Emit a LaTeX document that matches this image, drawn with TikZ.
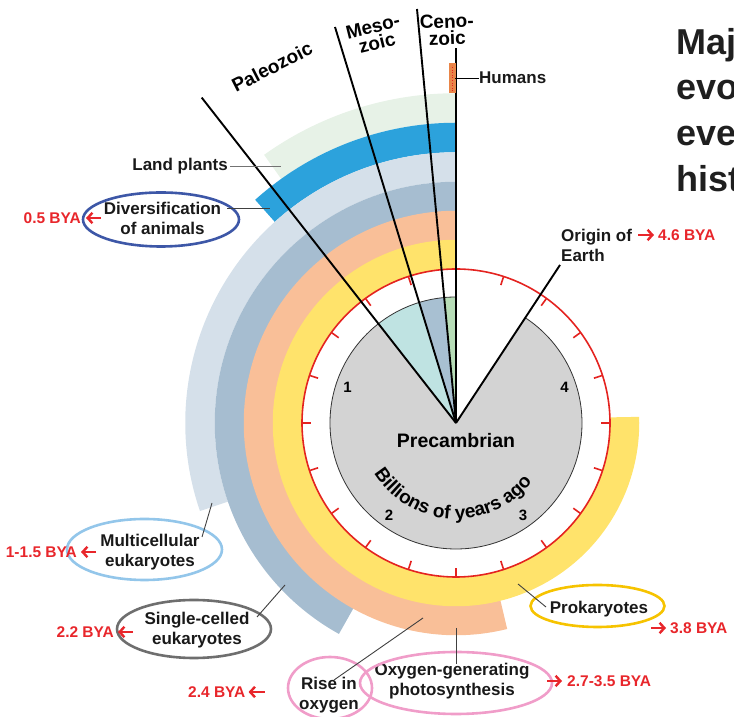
\documentclass[tikz,border=0pt]{standalone}
\usepackage{fontspec}
\setmainfont{Liberation Sans}
\usetikzlibrary{arrows.meta,calc,decorations.text}
\definecolor{cyellow}{HTML}{FFE36B}
\definecolor{csalmon}{HTML}{F9BF98}
\definecolor{csteel}{HTML}{A6BDD0}
\definecolor{clight}{HTML}{D5E0EA}
\definecolor{cblue}{HTML}{2CA2DC}
\definecolor{cgreen}{HTML}{E7F2E7}
\definecolor{cgray}{HTML}{D3D3D3}
\definecolor{cpaleo}{HTML}{BFE3E2}
\definecolor{cmeso}{HTML}{A8C0D2}
\definecolor{cceno}{HTML}{B7DDB7}
\definecolor{bred}{HTML}{E8262B}
\definecolor{clockred}{HTML}{E42320}
\definecolor{cdiv}{HTML}{3D57A7}
\definecolor{cmulti}{HTML}{93C6EA}
\definecolor{csingle}{HTML}{6E6E6E}
\definecolor{cprok}{HTML}{F6C300}
\definecolor{cpink}{HTML}{F09DC9}
\definecolor{chuman}{HTML}{E98548}
\tikzset{
  band/.style={line width=29.5pt, line cap=butt},
  redline/.style={draw=clockred, line width=1.6pt},
  eraline/.style={draw=black, line width=1.9pt},
  pointer/.style={draw=black!75, line width=0.9pt},
  lbl/.style={font=\fontsize{17}{20}\selectfont\bfseries, inner sep=0pt, align=center, text=black!90},
  eralbl/.style={font=\fontsize{19}{17}\selectfont\bfseries, inner sep=0.5pt, align=center},
  bya/.style={font=\fontsize{15.5}{18}\selectfont\bfseries, text=bred, inner sep=0pt},
  redarr/.style={draw=bred, line width=2.4pt, -{Straight Barb[length=4.8pt,width=10.5pt]}},
  oval/.style={line width=2.6pt},
  num/.style={font=\fontsize{15}{18}\selectfont\bfseries, inner sep=0pt},
  ttl/.style={font=\fontsize{36}{44}\selectfont\bfseries, text=black!88, inner sep=0pt, anchor=base west}
}
\begin{document}
\begin{tikzpicture}[x=1pt,y=1pt]
\useasboundingbox (0,0) rectangle (734,717);
\clip (0,0) rectangle (734,717);
\coordinate (c) at (456,294);

% bands
\draw[band, draw=cgreen]  (c) ++(90:315pt)   arc[start angle=90, end angle=125.6, radius=315pt];
\draw[band, draw=cblue]   (c) ++(90:285.5pt) arc[start angle=90, end angle=132, radius=285.5pt];
\draw[band, draw=clight]  (c) ++(90:256pt)   arc[start angle=90, end angle=199, radius=256pt];
\draw[band, draw=csteel]  (c) ++(90:226.5pt) arc[start angle=90, end angle=241, radius=226.5pt];
\draw[band, draw=csalmon] (c) ++(90:197.5pt) arc[start angle=90, end angle=284, radius=197.5pt];
\draw[band, draw=cyellow] (c) ++(90:168.5pt) arc[start angle=90, end angle=362, radius=168.5pt];

% clock face
\fill[white] (c) circle[radius=153pt];
\fill[cgray] (c) -- ++(128:126pt) arc[start angle=128, end angle=416.7, radius=126pt] -- cycle;
\fill[cpaleo] (c) -- ++(107:126pt) arc[start angle=107, end angle=128, radius=126pt] -- cycle;
\fill[cmeso] (c) -- ++(95.4:126pt) arc[start angle=95.4, end angle=107, radius=126pt] -- cycle;
\fill[cceno] (c) -- ++(90:126pt) arc[start angle=90, end angle=95.4, radius=126pt] -- cycle;
\draw[black!80, line width=0.8pt] (c) ++(90:126pt) arc[start angle=90, end angle=416.7, radius=126pt];
\draw[redline] (c) circle[radius=154pt];
\foreach \a in {0,18,...,342}
  \draw[redline] ($(c)+(90+\a:154pt)$) -- ($(c)+(90+\a:145pt)$);

% numbers
\foreach \k in {1,2,3,4}
  \node[num] at ($(c)+(90+72*\k:114pt)$) {\k};
\node[font=\fontsize{19.5}{20}\selectfont\bfseries, inner sep=0pt] (pre) at (456,276) {Precambrian};
\begin{scope}
\fontsize{19}{20}\selectfont\bfseries
\path[decorate, decoration={text along path, text align=center,
  text={Billions of years ago}}]
  (c) ++(192:96pt) arc[start angle=192, end angle=342, radius=96pt];
\end{scope}

% era lines
\coordinate (pz) at (201.7,619.4);
\coordinate (mz) at (335,690);
\coordinate (cz) at (417,708);
\coordinate (top) at (456,669);
\coordinate (oe) at (560,452);
\draw[eraline] (c) -- (pz);
\draw[eraline] (c) -- (mz);
\draw[eraline] (c) -- (cz);
\draw[eraline] (c) -- (top);
\draw[eraline] (c) -- (oe);

\node[eralbl, rotate=27] (paleo) at (272,650) {Paleozoic};
\node[eralbl, rotate=14] (meso) at (375,682) {Meso-\\zoic};
\node[eralbl, rotate=2] (ceno) at (447,687) {Ceno-\\zoic};

% humans
\fill[chuman] (449,624) rectangle (455.5,654);
\draw[clockred, line width=0.6pt, dotted] (452,626) -- (452,652);
\node[lbl, anchor=west] (hum) at (479,639) {Humans};
\draw[pointer, draw=black] (455,639) -- (hum.west);

% title
\node[ttl] (t1) at (676,662) {Major};
\node[ttl] (t2) at (676,617) {evolutionary};
\node[ttl] (t3) at (676,571) {events in};
\node[ttl] (t4) at (676,525) {history};

% labels
\node[lbl, anchor=east] (land) at (228,551) {Land plants};
\coordinate (landp) at (281,551);
\draw[pointer, draw=black!55] ([xshift=2pt]land.east) -- (landp);

\node[lbl] (div) at (162.5,499) {Diversification\\of animals};
\draw[oval, draw=cdiv] (161,497.5) ellipse[x radius=78pt, y radius=27pt];
\coordinate (divp) at (270,509);
\draw[pointer] (227,509) -- (divp);
\node[bya, anchor=east] (b05) at (81,499) {0.5 BYA};
\draw[redarr] ([xshift=20pt]b05.east) -- ([xshift=5pt]b05.east);

\node[lbl, anchor=west, align=left] (orig) at (561,472) {Origin of\\Earth};
\node[bya, anchor=west] (b46) at (658,482) {4.6 BYA};
\draw[redarr] ([xshift=-20pt]b46.west) -- ([xshift=-4pt]b46.west);

\node[lbl] (multi) at (150,165) {Multicellular\\eukaryotes};
\draw[oval, draw=cmulti] (144.5,167.5) ellipse[x radius=77.5pt, y radius=30.5pt];
\coordinate (multip) at (212,214);
\draw[pointer] (multip) -- (202,180);
\node[bya, anchor=east] (b115) at (77,165) {1-1.5 BYA};
\draw[redarr] ([xshift=19pt]b115.east) -- ([xshift=4pt]b115.east);

\node[lbl] (single) at (197,87) {Single-celled\\eukaryotes};
\draw[oval, draw=csingle] (194,88) ellipse[x radius=77pt, y radius=29pt];
\coordinate (singlep) at (285,132);
\draw[pointer] (singlep) -- (257,100);
\node[bya, anchor=east] (b22) at (114,85) {2.2 BYA};
\draw[redarr] ([xshift=19pt]b22.east) -- ([xshift=4pt]b22.east);

\node[lbl] (prok) at (599,108) {Prokaryotes};
\draw[oval, draw=cprok] (597.5,111) ellipse[x radius=67pt, y radius=21pt];
\coordinate (prokp) at (518,133);
\draw[pointer] (prokp) -- (546,110);
\node[bya, anchor=west] (b38) at (670,89) {3.8 BYA};
\draw[redarr] ([xshift=-19pt]b38.west) -- ([xshift=-4pt]b38.west);

\node[lbl] (rise) at (329,22) {Rise in\\oxygen};
\draw[oval, draw=cpink] (330,29) ellipse[x radius=42pt, y radius=31pt];
\coordinate (risep) at (423,99);
\draw[pointer] (risep) -- (334,37);
\node[bya, anchor=west] (b24) at (188,25) {2.4 BYA};
\draw[redarr] ([xshift=19pt]b24.east) -- ([xshift=3pt]b24.east);

\node[lbl] (oxy) at (452,36) {Oxygen-generating\\photosynthesis};
\draw[oval, draw=cpink] (456,34) ellipse[x radius=96pt, y radius=31pt];
\coordinate (oxyp) at (456,89);
\draw[pointer] (oxyp) -- (456,53);
\node[bya, anchor=west] (b27) at (567,36) {2.7-3.5 BYA};
\draw[redarr] ([xshift=-20pt]b27.west) -- ([xshift=-5pt]b27.west);
\end{tikzpicture}
\end{document}
